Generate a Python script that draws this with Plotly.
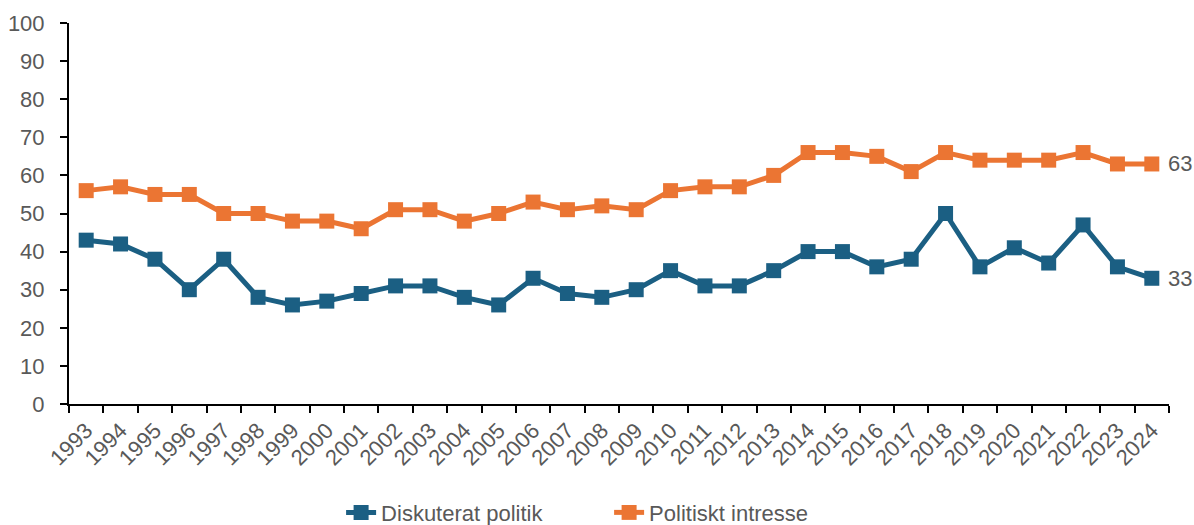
import plotly.graph_objects as go

years = [str(y) for y in range(1993, 2025)]
diskuterat = [43, 42, 38, 30, 38, 28, 26, 27, 29, 31, 31, 28, 26, 33, 29, 28, 30, 35,
              31, 31, 35, 40, 40, 36, 38, 50, 36, 41, 37, 47, 36, 33]
intresse = [56, 57, 55, 55, 50, 50, 48, 48, 46, 51, 51, 48, 50, 53, 51, 52, 51, 56,
            57, 57, 60, 66, 66, 65, 61, 66, 64, 64, 64, 66, 63, 63]

blue = "#1B5F83"
orange = "#EB7533"
grey = "#595959"
font_family = "Liberation Sans, Arial, sans-serif"

fig = go.Figure()
for name, vals, col in [("Diskuterat politik", diskuterat, blue),
                        ("Politiskt intresse", intresse, orange)]:
    fig.add_trace(go.Scatter(
        x=years, y=vals, name=name, mode="lines+markers",
        line=dict(color=col, width=5),
        marker=dict(symbol="square", size=15, color=col),
        cliponaxis=False,
    ))
    # category axes place annotations by category index
    fig.add_annotation(x=len(years) - 1, y=vals[-1], text=str(vals[-1]), showarrow=False,
                       xanchor="left", yanchor="middle", xshift=14,
                       font=dict(size=22, color=grey, family=font_family))

fig.update_layout(
    width=1194, height=525,
    margin=dict(l=69, r=25, t=23, b=121, autoexpand=False),
    paper_bgcolor="white", plot_bgcolor="white",
    font=dict(family=font_family, size=22, color=grey),
    showlegend=True,
    legend=dict(orientation="h", x=0.491, xanchor="center", y=-0.285, yanchor="middle",
                font=dict(size=22, color=grey), entrywidth=223, entrywidthmode="pixels"),
    xaxis=dict(
        type="category", range=[-0.5, len(years) - 0.5], automargin=False,
        showline=True, linecolor="black", linewidth=2,
        ticks="outside", tickson="boundaries", ticklen=7, tickcolor="black", tickwidth=1.5,
        tickangle=-45, showgrid=False, zeroline=False, ticklabelstandoff=3,
        tickfont=dict(size=22, color=grey),
    ),
    yaxis=dict(
        range=[0, 100], dtick=10, tick0=0, automargin=False,
        showline=True, linecolor="black", linewidth=2,
        ticks="outside", ticklen=7, tickcolor="black", tickwidth=1.5,
        showgrid=False, zeroline=False,
        tickfont=dict(size=22, color=grey), ticklabelstandoff=11,
    ),
)

fig.write_html("out.html", config={"displayModeBar": False},
               post_script="document.body.style.margin='0';")
